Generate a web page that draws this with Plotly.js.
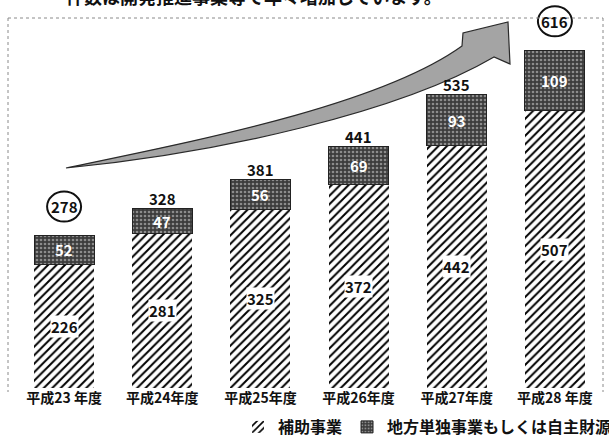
<!DOCTYPE html>
<html>
<head>
<meta charset="utf-8">
<script src="https://cdn.plot.ly/plotly-3.0.1.min.js"></script>
<style>html,body{margin:0;padding:0;background:#fff;}#chart{width:609px;height:439px;}</style>
</head>
<body>
<div id="chart"></div>
<script>
// ---- data ----
const categories = ["平成23 年度", "平成24年度", "平成25年度", "平成26年度", "平成27年度", "平成28 年度"];
const subsidy = [226, 281, 325, 372, 442, 507];        // 補助事業
const ownFunds = [52, 47, 56, 69, 93, 109];            // 地方単独事業もしくは自主財源
const totals = [278, 328, 381, 441, 535, 616];
const circled = [true, false, false, false, false, true];
const seriesNames = ["補助事業", "地方単独事業もしくは自主財源"];
const headingText = "ー　件数は開発推進事業等で年々増加しています。";

// ---- layout helpers ----
const W = 609, H = 439, ML = 15, MR = 5, MT = 18, MB = 51;
const PW = W - ML - MR, PH = H - MT - MB;
const Y_MAX = 675;
const px2x = p => (p - ML) / PW;
const px2y = p => (H - MB - p) / PH;
const FONT = "Noto Sans CJK JP, Noto Sans, sans-serif";

const traces = [
  {
    type: "bar", name: seriesNames[0], x: categories, y: subsidy,
    marker: { color: "#ffffff", line: { width: 0 },
      pattern: { shape: "/", fgcolor: "#000000", bgcolor: "#ffffff", size: 6, solidity: 0.33 } },
    hoverinfo: "skip"
  },
  {
    type: "bar", name: seriesNames[1], x: categories, y: ownFunds,
    marker: { color: "#4a4a4a", line: { width: 1, color: "#222" },
      pattern: { shape: ".", fgcolor: "#8c8c8c", bgcolor: "#3c3c3c", size: 4, solidity: 0.35 } },
    hoverinfo: "skip"
  }
];

const annotations = [];
const shapes = [];
const nCat = categories.length;
categories.forEach((c, i) => {
  annotations.push({ x: i, y: subsidy[i] / 2, xref: "x", yref: "y", text: String(subsidy[i]),
    showarrow: false, bgcolor: "#ffffff", borderpad: 0,
    font: { family: FONT, size: 15, color: "#111", weight: "bold" } });
  annotations.push({ x: i, y: subsidy[i] + ownFunds[i] / 2, xref: "x", yref: "y", text: String(ownFunds[i]),
    showarrow: false, font: { family: FONT, size: 15, color: "#ffffff", weight: "bold" } });
  const shift = circled[i] ? 29 : 10;
  annotations.push({ x: i, y: totals[i], xref: "x", yref: "y", text: String(totals[i]),
    showarrow: false, yshift: shift, yanchor: "middle",
    font: { family: FONT, size: 15, color: "#111", weight: "bold" } });
  if (circled[i]) {
    shapes.push({ type: "circle", xref: "paper", yref: "paper", xsizemode: "pixel", ysizemode: "pixel",
      xanchor: (i + 0.5) / nCat, yanchor: totals[i] / Y_MAX, x0: -17, x1: 17, y0: shift - 15, y1: shift + 15,
      line: { color: "#111", width: 2 }, fillcolor: "rgba(255,255,255,1)", layer: "below" });
  }
});

// dotted frame
const frameLine = { color: "#8a8a8a", width: 1, dash: "dot" };
shapes.push({ type: "line", xref: "paper", yref: "paper", x0: px2x(8), x1: px2x(8), y0: px2y(18), y1: px2y(392), line: frameLine });
shapes.push({ type: "line", xref: "paper", yref: "paper", x0: px2x(603), x1: px2x(603), y0: px2y(18), y1: px2y(392), line: frameLine });
shapes.push({ type: "line", xref: "paper", yref: "paper", x0: px2x(8), x1: px2x(603), y0: px2y(18), y1: px2y(18), line: frameLine });

// growth arrow (decoration)
const P = (x, y) => px2x(x).toFixed(4) + "," + px2y(y).toFixed(4);
const arrowPath = "M" + P(66, 168) +
  " C" + P(200, 140) + " " + P(380, 105) + " " + P(462, 46) +
  " L" + P(463, 33) + " L" + P(508, 22) + " L" + P(510, 64) + " L" + P(494, 57) +
  " C" + P(400, 112) + " " + P(220, 153) + " " + P(66, 168) + " Z";
shapes.push({ type: "path", xref: "paper", yref: "paper", path: arrowPath,
  fillcolor: "#a4a4a4", line: { color: "#2a2a2a", width: 1.2 }, layer: "above" });

// clipped heading at the very top (cut off in the reference too)
annotations.push({ xref: "paper", yref: "paper", x: px2x(28), y: px2y(-4), xanchor: "left", yanchor: "middle",
  text: headingText, showarrow: false, font: { family: FONT, size: 18, color: "#111", weight: "bold" } });

const layout = {
  width: W, height: H,
  margin: { l: ML, r: MR, t: MT, b: MB, autoexpand: false },
  paper_bgcolor: "#ffffff", plot_bgcolor: "#ffffff",
  barmode: "stack", bargap: 0.39,
  showlegend: true,
  legend: { orientation: "h", x: px2x(238), xanchor: "left", y: px2y(427), yanchor: "middle",
    font: { family: FONT, size: 16, color: "#111", weight: "bold" }, traceorder: "normal",
    itemwidth: 30, bgcolor: "rgba(0,0,0,0)" },
  xaxis: { type: "category", showgrid: false, zeroline: false, showline: false, ticks: "",
    tickfont: { family: FONT, size: 14, color: "#111", weight: "bold" } },
  yaxis: { range: [0, Y_MAX], visible: false, showgrid: false, zeroline: false },
  annotations: annotations,
  shapes: shapes,
  font: { family: FONT }
};

Plotly.newPlot("chart", traces, layout, { displayModeBar: false, staticPlot: true });
</script>
</body>
</html>
